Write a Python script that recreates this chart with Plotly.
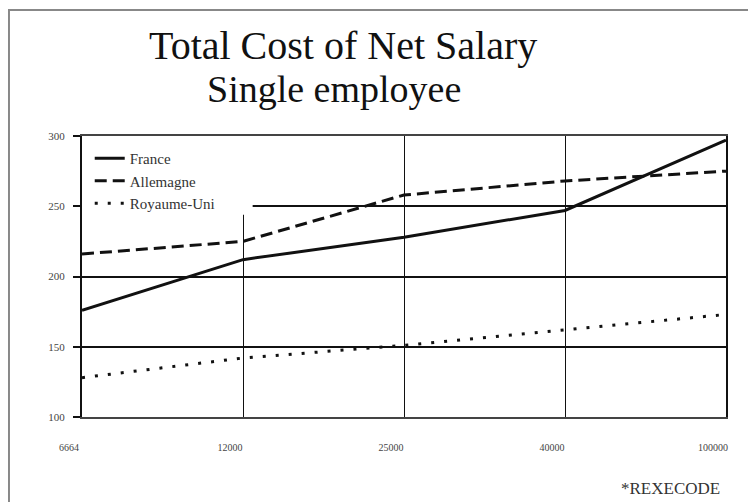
import plotly.graph_objects as go

categories = ["6664", "12000", "25000", "40000", "100000"]
france = [176, 212, 228, 247, 297]
allemagne = [216, 225, 258, 268, 275]
royaume_uni = [128, 142, 151, 162, 173]
y_ticks = [100, 150, 200, 250, 300]

FONT = "Liberation Serif"
xpos = list(range(len(categories)))

fig = go.Figure()
fig.add_trace(go.Scatter(x=xpos, y=france, name="France", mode="lines",
                         line=dict(color="#111", width=3)))
fig.add_trace(go.Scatter(x=xpos, y=allemagne, name="Allemagne", mode="lines",
                         line=dict(color="#111", width=3, dash="12px,6px")))
fig.add_trace(go.Scatter(x=xpos, y=royaume_uni, name="Royaume-Uni", mode="lines",
                         line=dict(color="#111", width=3, dash="3px,10px")))

fig.update_layout(
    width=748, height=494,
    margin=dict(l=74, r=30, t=128, b=85),
    paper_bgcolor="white", plot_bgcolor="white",
    font=dict(family=FONT, color="#333"),
    showlegend=True,
    legend=dict(x=0.012, y=0.979, xanchor="left", yanchor="top",
                bgcolor="rgba(0,0,0,0)", font=dict(family=FONT, size=15, color="#333"),
                tracegroupgap=0),
    xaxis=dict(range=[0, 4], tickvals=xpos, ticktext=categories,
               showgrid=True, gridcolor="#111", gridwidth=1,
               showline=True, linecolor="#444", linewidth=2, mirror=True,
               ticks="", zeroline=False,
               ticklabelstandoff=20, ticklabelshift=-13,
               tickfont=dict(family=FONT, size=10, color="#444")),
    yaxis=dict(range=[100, 300], tickvals=y_ticks,
               showgrid=True, gridcolor="#111", gridwidth=1.5,
               showline=True, linecolor="#111", linewidth=2, mirror=True,
               ticks="outside", ticklen=7, tickcolor="#111", tickwidth=1.5,
               zeroline=False, ticklabelstandoff=6,
               tickfont=dict(family=FONT, size=11, color="#444")),
    shapes=[
        dict(type="rect", xref="x", yref="y", x0=0, x1=1.06, y0=244, y1=300,
             fillcolor="white", line=dict(width=0), layer="between"),
        dict(type="rect", xref="paper", yref="paper", x0=-0.1134, x1=1.0419,
             y0=-0.5, y1=1.448, line=dict(color="#888", width=2),
             fillcolor="rgba(0,0,0,0)", layer="below"),
    ],
    annotations=[
        dict(text="Total Cost of Net Salary", xref="paper", yref="paper",
             x=0.405, y=1.322, xanchor="center", yanchor="middle", showarrow=False,
             font=dict(family=FONT, size=40, color="#111")),
        dict(text="Single employee", xref="paper", yref="paper",
             x=0.392, y=1.168, xanchor="center", yanchor="middle", showarrow=False,
             font=dict(family=FONT, size=38, color="#111")),
        dict(text="*REXECODE", xref="paper", yref="paper",
             x=0.994, y=-0.253, xanchor="right", yanchor="middle", showarrow=False,
             font=dict(family=FONT, size=17, color="#333")),
    ],
)

fig.write_html("out.html")
